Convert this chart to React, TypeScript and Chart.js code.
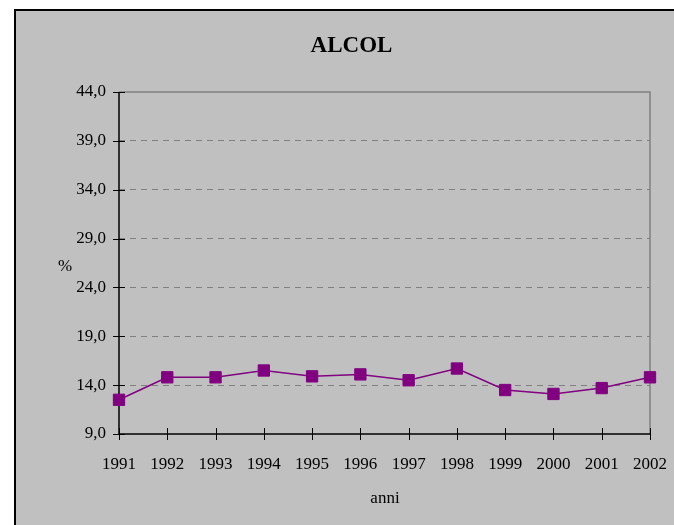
import React, { useEffect, useRef } from "react";
import { Chart, registerables } from "chart.js";

Chart.register(...registerables);

const years = ["1991", "1992", "1993", "1994", "1995", "1996", "1997", "1998", "1999", "2000", "2001", "2002"];
const alcolValues = [12.5, 14.8, 14.8, 15.5, 14.9, 15.1, 14.5, 15.7, 13.5, 13.1, 13.7, 14.8];
const yMin = 9;
const yMax = 44;
const yStep = 5;
const chartTitle = "ALCOL";
const yTitle = "%";
const xTitle = "anni";

const FONT = "'Liberation Serif', 'Times New Roman', serif";

const framePlugin = {
  id: "excelFrame",
  beforeDraw(chart: any) {
    const { ctx, width, height } = chart;
    ctx.save();
    ctx.fillStyle = "#ffffff";
    ctx.fillRect(0, 0, width, height);
    ctx.fillStyle = "#C0C0C0";
    ctx.fillRect(14, 9, width - 14, height - 9);
    ctx.strokeStyle = "#000000";
    ctx.lineWidth = 2;
    ctx.beginPath();
    ctx.moveTo(15, height);
    ctx.lineTo(15, 10);
    ctx.lineTo(width, 10);
    ctx.stroke();
    ctx.restore();
  },
  beforeDatasetsDraw(chart: any) {
    const { ctx, chartArea } = chart;
    const { left, right, top, bottom } = chartArea;
    const xs = chart.scales.x;
    const ys = chart.scales.y;
    ctx.save();
    // plot border top/right (gray)
    ctx.strokeStyle = "#808080";
    ctx.lineWidth = 1.5;
    ctx.beginPath();
    ctx.moveTo(left, top);
    ctx.lineTo(right, top);
    ctx.lineTo(right, bottom);
    ctx.stroke();
    // axes (black)
    ctx.strokeStyle = "#000000";
    ctx.lineWidth = 1.5;
    ctx.beginPath();
    ctx.moveTo(left, top);
    ctx.lineTo(left, bottom);
    ctx.lineTo(right, bottom);
    ctx.stroke();
    // tick marks crossing the axes
    ctx.lineWidth = 1;
    ctx.beginPath();
    ys.ticks.forEach((_t: any, i: number) => {
      const y = Math.round(ys.getPixelForTick(i)) + 0.5;
      ctx.moveTo(left - 6, y);
      ctx.lineTo(left + 6, y);
    });
    xs.ticks.forEach((_t: any, i: number) => {
      const x = Math.round(xs.getPixelForTick(i)) + 0.5;
      ctx.moveTo(x, bottom - 6);
      ctx.lineTo(x, bottom + 6);
    });
    ctx.stroke();
    // titles
    ctx.fillStyle = "#000000";
    ctx.textAlign = "center";
    ctx.textBaseline = "alphabetic";
    ctx.font = `bold 23px ${FONT}`;
    ctx.fillText(chartTitle, 351.5, 52);
    ctx.font = `17px ${FONT}`;
    ctx.fillText(yTitle, 65, 271);
    ctx.fillText(xTitle, 385, 503);
    ctx.restore();
  },
};

export default function App() {
  const canvasRef = useRef<HTMLCanvasElement | null>(null);

  useEffect(() => {
    document.body.style.margin = "0";
    const canvas = canvasRef.current;
    if (!canvas) return;
    const chart = new Chart(canvas, {
      type: "line",
      data: {
        labels: years,
        datasets: [
          {
            data: alcolValues,
            borderColor: "#800080",
            backgroundColor: "#800080",
            borderWidth: 1.5,
            pointStyle: "rect",
            pointRadius: 8,
            pointBorderWidth: 1,
            pointBorderColor: "#800080",
            pointBackgroundColor: "#800080",
            tension: 0,
            clip: false as any,
          },
        ],
      },
      options: {
        responsive: false,
        animation: false,
        devicePixelRatio: 1,
        layout: { padding: { left: 0, top: 92, right: 24, bottom: 0 } },
        plugins: {
          legend: { display: false },
          title: { display: false },
          tooltip: { enabled: false },
        },
        scales: {
          x: {
            type: "category",
            offset: false,
            grid: { display: false, drawTicks: false },
            border: { display: false },
            ticks: {
              color: "#000000",
              font: { family: FONT, size: 17 },
              padding: 20,
              maxRotation: 0,
              autoSkip: false,
            },
            afterFit(scale: any) {
              scale.height = 91;
              scale.paddingLeft = 0;
              scale.paddingRight = 0;
            },
          },
          y: {
            min: yMin,
            max: yMax,
            grid: {
              drawTicks: false,
              lineWidth: 1,
              color: (c: any) =>
                c.tick && (c.tick.value === yMin || c.tick.value === yMax) ? "rgba(0,0,0,0)" : "#808080",
            },
            border: { display: false, dash: [6, 5] },
            ticks: {
              stepSize: yStep,
              color: "#000000",
              font: { family: FONT, size: 17 },
              padding: 13,
              callback: (v: any) => Number(v).toFixed(1).replace(".", ","),
            },
            afterFit(scale: any) {
              scale.width = 119;
              scale.paddingTop = 0;
              scale.paddingBottom = 0;
            },
          },
        },
      },
      plugins: [framePlugin],
    });
    return () => chart.destroy();
  }, []);

  return (
    <div style={{ position: "absolute", left: 0, top: 0, width: 674, height: 525 }}>
      <canvas ref={canvasRef} width={674} height={525} style={{ display: "block", width: 674, height: 525 }} />
    </div>
  );
}
